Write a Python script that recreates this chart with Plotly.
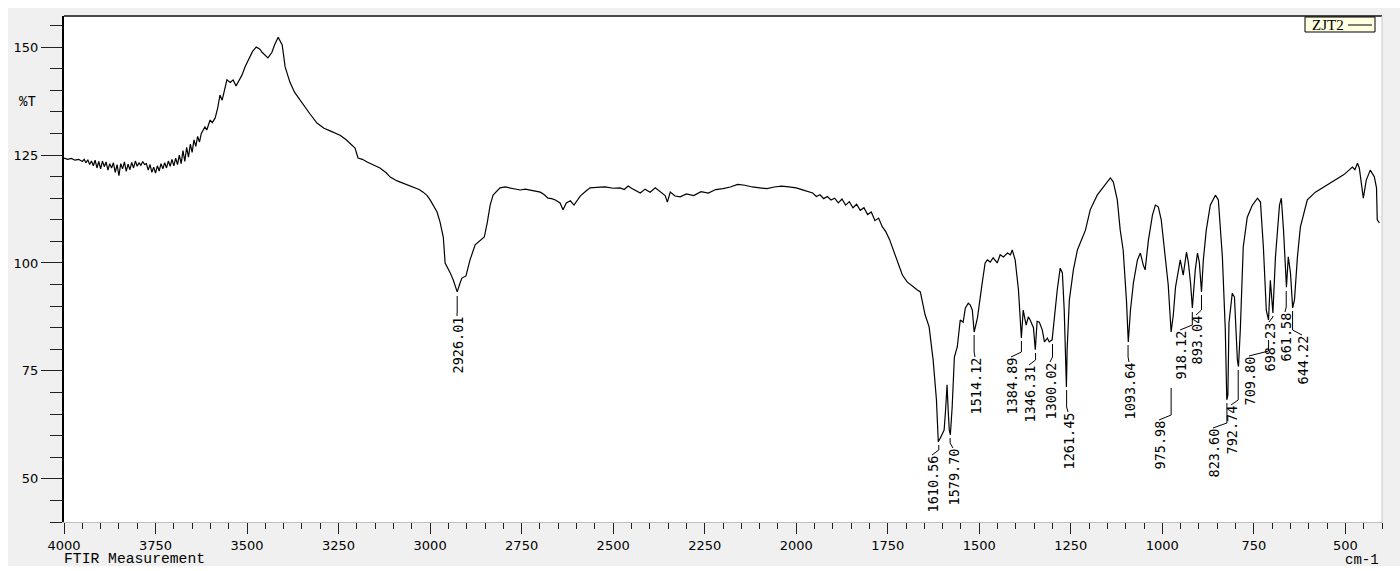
import plotly.graph_objects as go

# ---------------- data ----------------
wavenumber = [
    4000, 3990, 3980, 3970, 3960, 3950, 3945, 3940, 3935, 3930, 3925, 3920, 3915, 3910, 3905, 3900,
    3895, 3890, 3885, 3880, 3875, 3870, 3865, 3860, 3855, 3850, 3845, 3840, 3835, 3830, 3825, 3820,
    3815, 3810, 3805, 3800, 3795, 3790, 3785, 3780, 3775, 3770, 3765, 3760, 3755, 3750, 3745, 3740,
    3735, 3730, 3725, 3720, 3715, 3710, 3705, 3700, 3695, 3690, 3685, 3680, 3675, 3670, 3665, 3660,
    3655, 3650, 3645, 3640, 3635, 3630, 3625, 3615, 3610, 3601, 3595, 3587, 3580, 3574, 3568, 3562,
    3555, 3546, 3538, 3530, 3525, 3514, 3505, 3497, 3485, 3475, 3465, 3459, 3450, 3443, 3432, 3425,
    3415, 3404, 3396, 3383, 3370, 3355, 3340, 3328, 3309, 3290, 3273, 3260, 3246, 3230, 3219, 3205,
    3197, 3185, 3172, 3155, 3137, 3120, 3109, 3090, 3074, 3060, 3046, 3030, 3019, 3008, 3000, 2990,
    2981, 2973, 2964, 2959, 2951, 2945, 2937, 2931, 2926, 2918, 2913, 2902, 2891, 2877, 2863, 2852,
    2844, 2836, 2828, 2809, 2795, 2781, 2765, 2754, 2740, 2727, 2712, 2699, 2688, 2678, 2668, 2658,
    2645, 2637, 2628, 2617, 2607, 2598, 2590, 2575, 2563, 2545, 2522, 2500, 2481, 2470, 2459, 2450,
    2440, 2426, 2413, 2399, 2385, 2375, 2366, 2358, 2352, 2344, 2331, 2317, 2300, 2280, 2260, 2240,
    2220, 2200, 2180, 2160, 2140, 2120, 2100, 2080, 2060, 2040, 2020, 2000, 1985, 1970, 1955, 1945,
    1935, 1925, 1915, 1905, 1895, 1885, 1875, 1865, 1855, 1845, 1835, 1825, 1815, 1805, 1795, 1785,
    1775, 1765, 1755, 1745, 1735, 1716, 1710, 1697, 1680, 1670, 1661, 1648, 1637, 1626, 1617, 1612,
    1606, 1600, 1596, 1592, 1590, 1588, 1585, 1582, 1579, 1574, 1568, 1560, 1552, 1544, 1538, 1530,
    1525, 1519, 1514, 1505, 1492, 1484, 1478, 1470, 1462, 1451, 1443, 1434, 1423, 1415, 1410, 1402,
    1393, 1385, 1380, 1372, 1366, 1361, 1352, 1347, 1342, 1336, 1328, 1322, 1314, 1309, 1301, 1295,
    1287, 1279, 1273, 1268, 1262, 1260, 1254, 1243, 1232, 1210, 1197, 1178, 1156, 1142, 1134, 1123,
    1115, 1107, 1098, 1093, 1087, 1079, 1068, 1060, 1052, 1047, 1038, 1027, 1019, 1011, 1003, 995,
    984, 976, 970, 964, 951, 943, 934, 929, 923, 918, 910, 904, 899, 893, 888, 880,
    869, 855, 847, 836, 828, 824, 821, 818, 809, 803, 795, 792, 787, 779, 768, 754,
    740, 732, 724, 716, 710, 705, 698, 691, 680, 675, 669, 661, 656, 650, 644, 639,
    631, 623, 604, 582, 560, 541, 520, 505, 490, 481, 474, 467, 462, 459, 451, 443,
    432, 421, 415, 413, 407,
]
transmittance = [
    124.3, 124.0, 124.2, 123.8, 124.0, 123.5, 124.0, 123.2, 123.9, 122.8, 123.6, 122.5, 123.8, 122.0, 123.5, 121.8,
    123.6, 122.3, 123.4, 121.5, 123.0, 122.0, 123.2, 121.0, 122.8, 120.2, 123.0, 121.8, 123.4, 121.2, 122.9, 121.6,
    123.3, 122.0, 123.6, 122.4, 123.2, 122.6, 123.5, 122.8, 123.0, 121.5, 122.8, 121.0, 122.2, 120.8, 122.5, 121.3,
    123.0, 121.8, 123.2, 122.0, 123.6, 122.4, 124.0, 122.5, 124.3, 122.8, 125.0, 123.0, 126.0, 123.5, 126.8, 124.5,
    127.5, 125.6, 128.5, 127.0, 129.3, 128.0, 130.0, 131.5, 130.8, 133.1, 132.5, 133.6, 136.0, 138.9, 137.7, 140.0,
    142.4, 141.8, 142.4, 141.0, 141.7, 143.5, 145.5, 147.0, 149.0, 150.0, 149.5, 148.8, 148.0, 147.5, 148.8, 150.5,
    152.3, 150.5, 145.4, 141.9, 139.5, 137.7, 135.8, 134.5, 132.4, 131.2, 130.6, 130.1, 129.6, 128.6, 127.8, 126.6,
    124.3, 124.0, 123.4, 122.7, 122.0, 120.9, 119.9, 119.0, 118.5, 118.0, 117.6, 117.0, 116.4, 115.6, 114.6, 113.2,
    111.8, 109.5, 106.0, 100.0, 98.8, 97.7, 96.1, 94.5, 93.3, 95.4, 96.5, 97.0, 100.7, 104.2, 105.3, 106.0,
    109.3, 113.4, 115.7, 117.4, 117.6, 117.4, 117.2, 116.9, 117.1, 116.9, 116.7, 116.4, 115.8, 115.0, 114.9, 114.6,
    113.9, 112.3, 113.9, 114.4, 113.4, 114.6, 115.5, 116.6, 117.4, 117.5, 117.6, 117.3, 117.4, 117.0, 117.8, 117.3,
    116.9, 116.2, 117.1, 116.4, 117.4, 116.8, 116.2, 115.6, 114.1, 116.4, 115.5, 115.3, 116.0, 115.6, 116.5, 116.2,
    117.0, 117.2, 117.6, 118.2, 118.0, 117.6, 117.4, 117.2, 117.6, 117.8, 117.6, 117.4, 117.0, 116.6, 116.2, 115.4,
    115.8, 114.9, 115.4, 114.6, 115.0, 113.9, 114.8, 113.4, 114.2, 112.8, 113.6, 112.2, 112.8, 111.2, 111.8, 109.8,
    110.4, 108.4, 107.2, 105.4, 103.0, 98.4, 97.2, 95.6, 94.4, 93.8, 93.3, 88.0, 85.2, 77.5, 68.3, 58.6,
    59.5, 60.5, 61.3, 66.0, 71.3, 71.8, 66.0, 61.3, 60.2, 66.7, 78.2, 80.6, 86.8, 86.3, 89.6, 90.7,
    90.3, 89.1, 84.0, 87.3, 95.4, 100.0, 100.7, 100.2, 101.2, 100.0, 101.9, 101.4, 102.3, 101.9, 103.0, 100.7,
    93.8, 82.6, 89.1, 85.6, 87.5, 86.8, 85.0, 79.9, 86.5, 86.3, 84.5, 81.7, 82.6, 81.7, 82.2, 87.5,
    93.8, 98.8, 97.7, 89.1, 71.3, 80.0, 91.4, 98.4, 103.0, 107.6, 112.3, 115.7, 118.0, 119.7, 118.8, 114.6,
    107.6, 103.0, 91.4, 81.7, 89.1, 95.4, 100.7, 102.3, 99.5, 98.4, 105.3, 111.1, 113.4, 113.0, 110.0, 103.5,
    95.0, 84.0, 88.0, 94.4, 100.7, 97.2, 102.5, 100.2, 95.4, 89.6, 98.4, 102.3, 100.2, 93.3, 100.7, 107.6,
    113.4, 115.7, 114.6, 101.4, 84.5, 68.3, 69.4, 86.1, 93.0, 92.1, 77.5, 76.0, 84.5, 103.7, 110.6, 113.4,
    115.0, 114.1, 103.7, 89.0, 86.8, 96.0, 88.4, 101.4, 113.4, 115.0, 107.6, 94.4, 101.4, 97.7, 89.6, 91.5,
    101.4, 108.3, 114.6, 116.4, 117.6, 118.5, 119.6, 120.4, 121.5, 122.2, 121.6, 123.1, 122.0, 120.0, 115.0, 119.2,
    121.5, 120.0, 117.4, 110.0, 109.3,
]

peak_labels = ["2926.01", "1610.56", "1579.70", "1514.12", "1384.89", "1346.31", "1300.02",
               "1261.45", "1093.64", "975.98", "918.12", "893.04", "823.60", "792.74",
               "709.80", "698.23", "661.58", "644.22"]

x_ticks = [4000, 3750, 3500, 3250, 3000, 2750, 2500, 2250, 2000, 1750, 1500, 1250, 1000, 750, 500]
y_ticks = [50, 75, 100, 125, 150]

# ---------------- layout geometry (pixels) ----------------
W, H = 1400, 571
PL, PR, PT, PB = 64, 1382, 16, 522
X_RANGE = [4000, 400]
Y_RANGE = [40, 157.2]

MONO_SERIF = "Liberation Mono, Courier New, Cousine, monospace"
SERIF = "Liberation Serif, Times New Roman, Tinos, serif"


def px_wn(px):
    return X_RANGE[0] + (px - PL) * (X_RANGE[1] - X_RANGE[0]) / (PR - PL)


def py_T(py):
    return Y_RANGE[1] + (py - PT) * (Y_RANGE[0] - Y_RANGE[1]) / (PB - PT)


def pxx(px):
    return (px - PL) / (PR - PL)


def pxy(py):
    return (PB - py) / (PB - PT)


# placement of each peak label: leader start y, label centre x, label top y (pixels)
label_place = [
    (296, 457, 316), (445, 932, 455), (438, 953, 448), (335, 975, 357), (341, 1011, 357),
    (353, 1029, 365), (344, 1050, 362), (390, 1068, 412), (345, 1129, 362), (388, 1159, 420),
    (312, 1180, 330), (295, 1196, 315), (403, 1213, 428), (370, 1231, 405), (340, 1249, 356),
    (316, 1269, 322), (291, 1285, 312), (311, 1302, 335),
]

fig = go.Figure()
fig.add_trace(go.Scatter(x=wavenumber, y=transmittance, mode="lines",
                         line=dict(color="black", width=1.2), name="ZJT2",
                         showlegend=False, hoverinfo="skip"))

shapes = []
annotations = []

# peak labels + leaders
for lab, (ly0, lx, ltop) in zip(peak_labels, label_place):
    pwn = float(lab)
    lwn = px_wn(lx)
    bend = py_T(ltop - 5)
    path = "M {:.2f},{:.3f} L {:.2f},{:.3f} L {:.2f},{:.3f}".format(
        pwn, py_T(ly0), pwn, bend, lwn, py_T(ltop))
    shapes.append(dict(type="path", xref="x", yref="y", path=path,
                       line=dict(color="black", width=1)))
    annotations.append(dict(x=lwn, y=py_T(ltop), xref="x", yref="y", text=lab,
                            textangle=-90, xanchor="center", yanchor="top",
                            showarrow=False, borderpad=0,
                            font=dict(family="DejaVu Sans Mono", size=13.5, color="black")))

# white strips outside the grey frame
shapes += [
    dict(type="rect", xref="paper", yref="paper", x0=pxx(0), x1=pxx(W), y0=pxy(8), y1=pxy(0),
         fillcolor="white", line=dict(width=0), layer="below"),
    dict(type="rect", xref="paper", yref="paper", x0=pxx(0), x1=pxx(8), y0=pxy(H), y1=pxy(0),
         fillcolor="white", line=dict(width=0), layer="below"),
    dict(type="rect", xref="paper", yref="paper", x0=pxx(0), x1=pxx(W), y0=pxy(H), y1=pxy(566),
         fillcolor="white", line=dict(width=0), layer="below"),
]
# top and right borders of the plot area
shapes.append(dict(type="line", xref="paper", yref="paper", x0=pxx(PL), x1=pxx(PR), y0=1, y1=1,
                   line=dict(color="#4a4a4a", width=2)))
shapes.append(dict(type="line", xref="paper", yref="paper", x0=1, x1=1, y0=0, y1=1,
                   line=dict(color="#c8c8c8", width=1)))

# legend box
shapes.append(dict(type="rect", xref="paper", yref="paper", x0=pxx(1305), x1=pxx(1375),
                   y0=pxy(32), y1=pxy(17), fillcolor="#ffffe1", line=dict(color="black", width=1)))
shapes.append(dict(type="line", xref="paper", yref="paper", x0=pxx(1348), x1=pxx(1372),
                   y0=pxy(25), y1=pxy(25), line=dict(color="black", width=1)))
annotations.append(dict(x=pxx(1310), y=pxy(25), xref="paper", yref="paper", text="ZJT2",
                        xanchor="left", yanchor="middle", showarrow=False,
                        font=dict(family=SERIF, size=15, color="black")))

# axis captions
annotations.append(dict(x=pxx(38), y=pxy(102), xref="paper", yref="paper", text="%T",
                        xanchor="right", yanchor="middle", showarrow=False,
                        font=dict(family=MONO_SERIF, size=14, color="black")))
annotations.append(dict(x=pxx(62), y=pxy(559), xref="paper", yref="paper", text="FTIR Measurement",
                        xanchor="left", yanchor="middle", showarrow=False,
                        font=dict(family=MONO_SERIF, size=14.7, color="black")))
annotations.append(dict(x=pxx(1381), y=pxy(560), xref="paper", yref="paper", text="cm-1",
                        xanchor="right", yanchor="middle", showarrow=False,
                        font=dict(family=MONO_SERIF, size=14, color="black")))

fig.update_layout(
    width=W, height=H, autosize=False,
    margin=dict(l=PL, r=W - PR, t=PT, b=H - PB, pad=0),
    paper_bgcolor="#f0f0f0", plot_bgcolor="white",
    showlegend=False,
    shapes=shapes, annotations=annotations,
    xaxis=dict(range=X_RANGE, tickmode="array", tickvals=x_ticks,
               ticktext=[str(v) for v in x_ticks],
               ticks="outside", ticklen=11, tickwidth=1, tickcolor="#222",
               minor=dict(dtick=50, tick0=0, ticks="outside", ticklen=6, tickwidth=1, tickcolor="#222"),
               showgrid=False, zeroline=False, showline=True, linecolor="#c0c0c0", linewidth=1,
               tickfont=dict(family="DejaVu Sans", size=13, color="black")),
    yaxis=dict(range=Y_RANGE, tickmode="array", tickvals=y_ticks,
               ticktext=[str(v) for v in y_ticks],
               ticks="outside", ticklen=21, tickwidth=1, tickcolor="#222",
               minor=dict(dtick=5, tick0=0, ticks="outside", ticklen=12, tickwidth=1, tickcolor="#222"),
               showgrid=False, zeroline=False, showline=True, linecolor="black", linewidth=2,
               tickfont=dict(family="DejaVu Sans", size=13, color="black")),
)

fig.write_html("out.html")
